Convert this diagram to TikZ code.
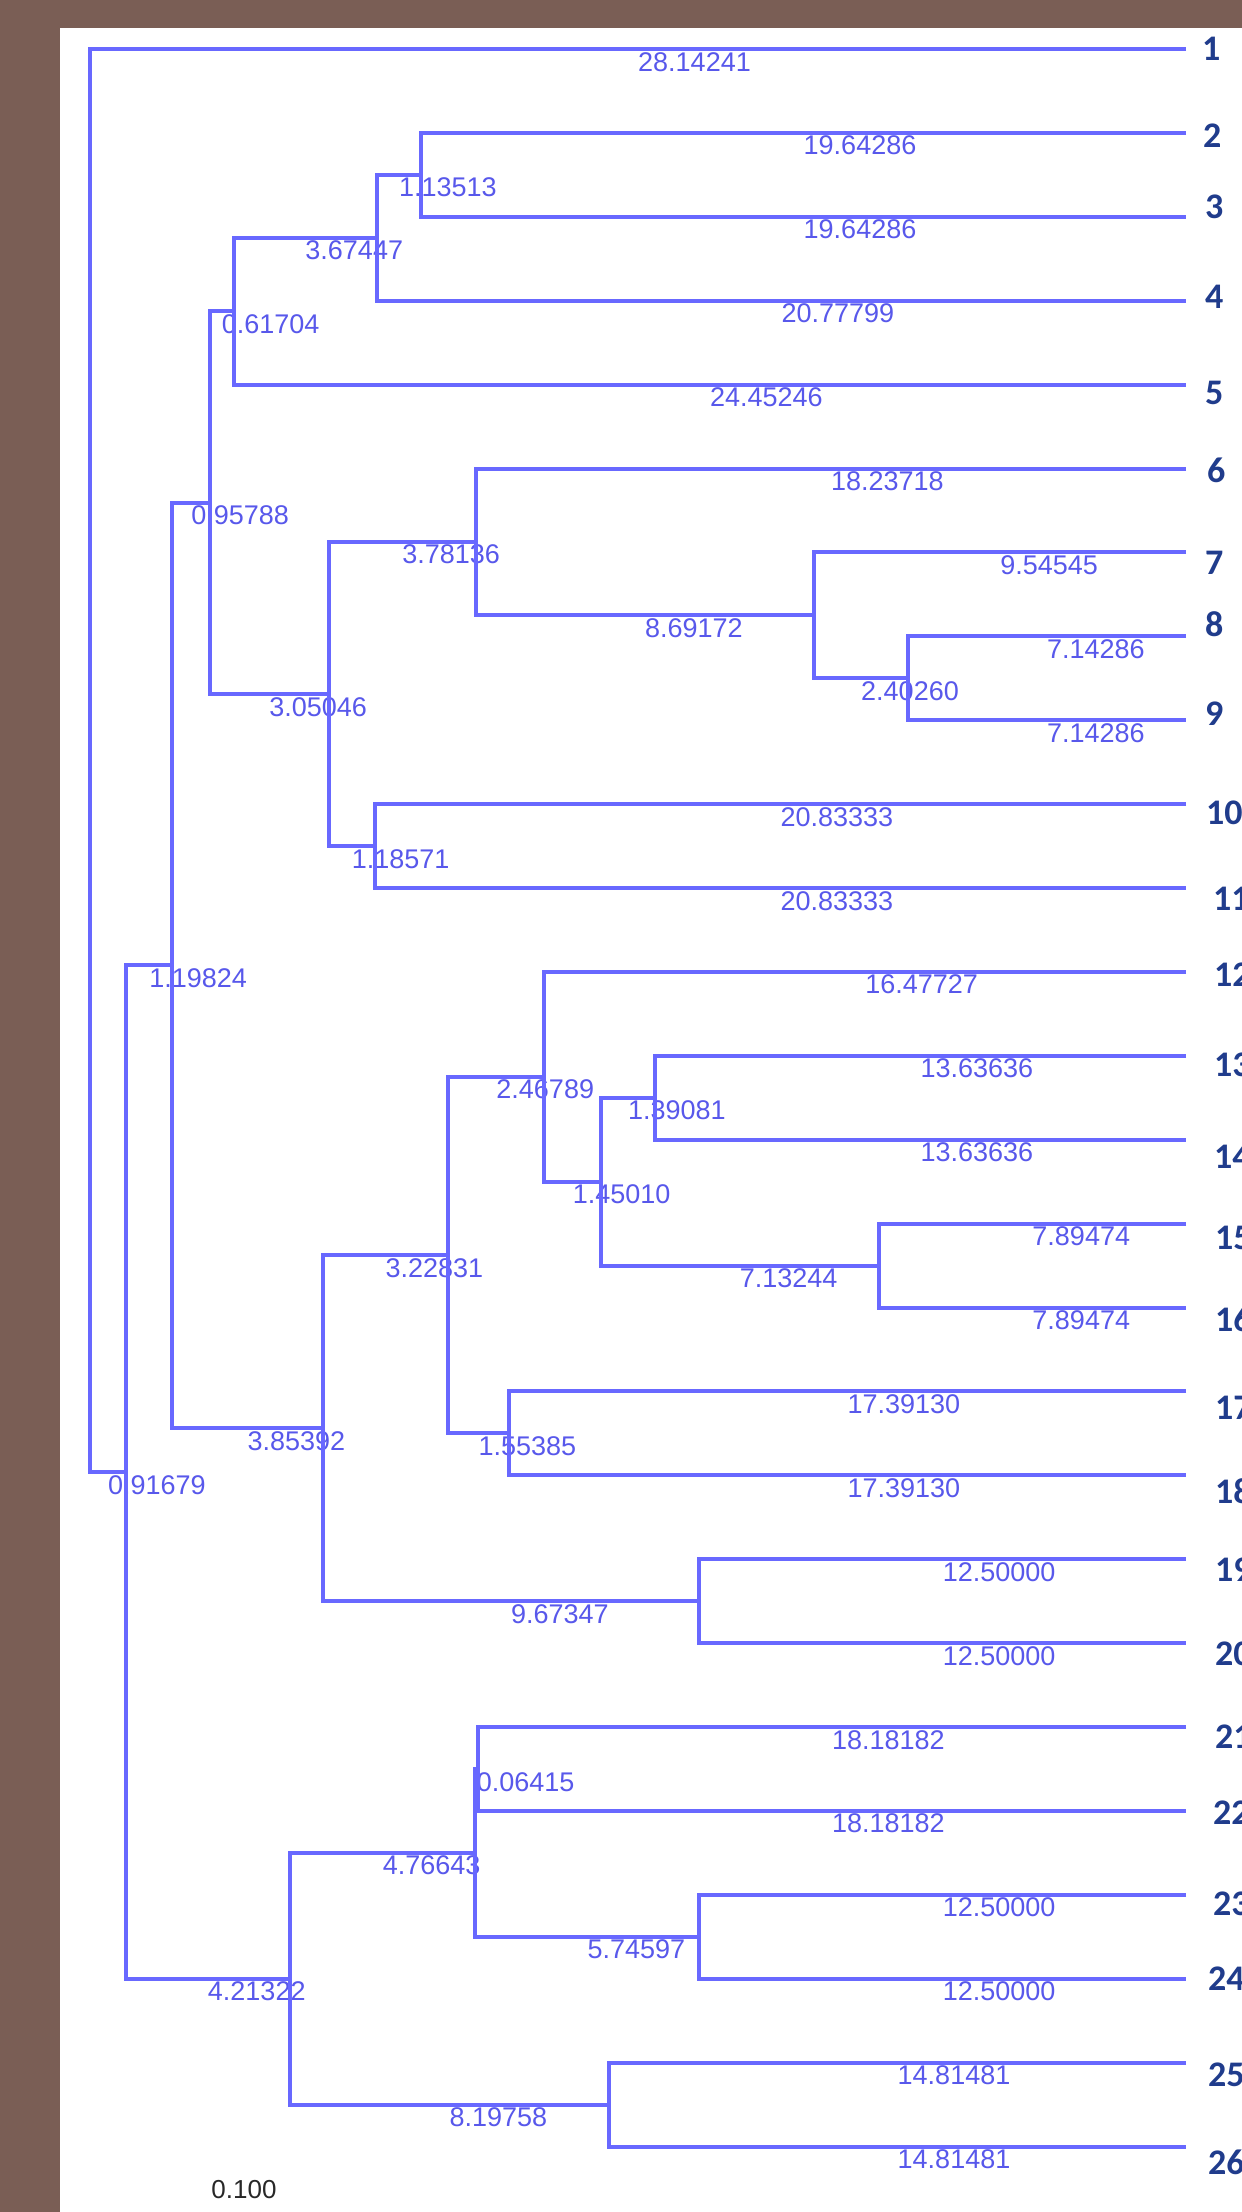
\documentclass[tikz,border=0pt]{standalone}
\usepackage{fontspec}
\setmainfont{Liberation Sans}
\newfontfamily\leaffont{Carlito}
\usetikzlibrary{calc}
\definecolor{bgbrown}{RGB}{122,94,85}
\definecolor{treeblue}{RGB}{104,104,255}
\definecolor{lblblue}{RGB}{88,88,235}
\definecolor{navy}{RGB}{32,60,140}
\definecolor{scalegray}{RGB}{40,40,40}
\newcommand{\bracket}[3]{\draw[branch] (#2) -- (#1 |- #2) -- (#1 |- #3) -- (#3);}
\newcommand{\blab}[4]{\node[blabel] (#1) at ($(#2 |- #3)!0.5!(#3)+(0,3)$) {#4};}
\begin{document}
\begin{tikzpicture}[x=1pt,y=-1pt,
  branch/.style={draw=treeblue,line width=4pt},
  blabel/.style={anchor=north west,inner sep=0pt,text=lblblue,font=\fontsize{27}{30}\selectfont},
  leaf/.style={anchor=west,inner sep=0pt,text=navy,font=\leaffont\bfseries\fontsize{36}{40}\selectfont}]
\useasboundingbox (0,0) rectangle (1242,2212);
\fill[bgbrown] (0,0) rectangle (1242,2212);
\fill[white] (60,28) rectangle (1242,2212);
\clip (0,0) rectangle (1242,2212);
% leaves
\foreach \i in {1,...,26} \coordinate (v\i) at (1186,{49+(\i-1)*83.9});
% internal nodes
\coordinate (nRoot) at (90,760.5);
\coordinate (nA) at (125.7,1472.02);
\coordinate (nB) at (172.4,965.34);
\coordinate (nC) at (289.8,1978.7);
\coordinate (nD) at (209.7,502.58);
\coordinate (nE) at (322.5,1428.1);
\coordinate (nF) at (233.7,311.19);
\coordinate (nG) at (328.5,693.98);
\coordinate (nL) at (376.8,237.78);
\coordinate (nM) at (421.0,174.85);
\coordinate (nH) at (475.7,541.91);
\coordinate (nI) at (374.7,846.05);
\coordinate (nJ) at (814.2,615.33);
\coordinate (nK) at (907.8,678.25);
\coordinate (nN) at (448.2,1255.06);
\coordinate (nO) at (699.2,1601.15);
\coordinate (nP) at (544.3,1076.78);
\coordinate (nQ) at (508.7,1433.35);
\coordinate (nR) at (600.8,1181.65);
\coordinate (nS) at (654.9,1097.75);
\coordinate (nT) at (878.5,1265.55);
\coordinate (nU) at (475.4,1852.85);
\coordinate (nV) at (609.0,2104.55);
\coordinate (nW) at (477.9,1768.95);
\coordinate (nX) at (699.2,1936.75);
% branch labels (drawn first, lines go over them)
\blab{b1}{nRoot}{v1}{28.14241}
\blab{b2}{nRoot}{nA}{0.91679}
\blab{b3}{nA}{nB}{1.19824}
\blab{b4}{nA}{nC}{4.21322}
\blab{b5}{nB}{nD}{0.95788}
\blab{b6}{nB}{nE}{3.85392}
\blab{b7}{nD}{nF}{0.61704}
\blab{b8}{nD}{nG}{3.05046}
\blab{b9}{nF}{nL}{3.67447}
\blab{b10}{nF}{v5}{24.45246}
\blab{b11}{nL}{nM}{1.13513}
\blab{b12}{nL}{v4}{20.77799}
\blab{b13}{nM}{v2}{19.64286}
\blab{b14}{nM}{v3}{19.64286}
\blab{b15}{nG}{nH}{3.78136}
\blab{b16}{nG}{nI}{1.18571}
\blab{b17}{nH}{v6}{18.23718}
\blab{b18}{nH}{nJ}{8.69172}
\blab{b19}{nJ}{v7}{9.54545}
\blab{b20}{nJ}{nK}{2.40260}
\blab{b21}{nK}{v8}{7.14286}
\blab{b22}{nK}{v9}{7.14286}
\blab{b23}{nI}{v10}{20.83333}
\blab{b24}{nI}{v11}{20.83333}
\blab{b25}{nE}{nN}{3.22831}
\blab{b26}{nE}{nO}{9.67347}
\blab{b27}{nN}{nP}{2.46789}
\blab{b28}{nN}{nQ}{1.55385}
\blab{b29}{nP}{v12}{16.47727}
\blab{b30}{nP}{nR}{1.45010}
\blab{b31}{nR}{nS}{1.39081}
\blab{b32}{nR}{nT}{7.13244}
\blab{b33}{nS}{v13}{13.63636}
\blab{b34}{nS}{v14}{13.63636}
\blab{b35}{nT}{v15}{7.89474}
\blab{b36}{nT}{v16}{7.89474}
\blab{b37}{nQ}{v17}{17.39130}
\blab{b38}{nQ}{v18}{17.39130}
\blab{b39}{nO}{v19}{12.50000}
\blab{b40}{nO}{v20}{12.50000}
\blab{b41}{nC}{nU}{4.76643}
\blab{b42}{nC}{nV}{8.19758}
\blab{b43}{nU}{nW}{0.06415}
\blab{b44}{nU}{nX}{5.74597}
\blab{b45}{nW}{v21}{18.18182}
\blab{b46}{nW}{v22}{18.18182}
\blab{b47}{nX}{v23}{12.50000}
\blab{b48}{nX}{v24}{12.50000}
\blab{b49}{nV}{v25}{14.81481}
\blab{b50}{nV}{v26}{14.81481}
% tree lines
\bracket{nRoot}{v1}{nA}
\bracket{nA}{nB}{nC}
\bracket{nB}{nD}{nE}
\bracket{nD}{nF}{nG}
\bracket{nF}{nL}{v5}
\bracket{nL}{nM}{v4}
\bracket{nM}{v2}{v3}
\bracket{nG}{nH}{nI}
\bracket{nH}{v6}{nJ}
\bracket{nJ}{v7}{nK}
\bracket{nK}{v8}{v9}
\bracket{nI}{v10}{v11}
\bracket{nE}{nN}{nO}
\bracket{nN}{nP}{nQ}
\bracket{nP}{v12}{nR}
\bracket{nR}{nS}{nT}
\bracket{nS}{v13}{v14}
\bracket{nT}{v15}{v16}
\bracket{nQ}{v17}{v18}
\bracket{nO}{v19}{v20}
\bracket{nC}{nU}{nV}
\bracket{nU}{nW}{nX}
\bracket{nW}{v21}{v22}
\bracket{nX}{v23}{v24}
\bracket{nV}{v25}{v26}
% leaf labels
\foreach \i/\xx/\dy in {1/1202/0,2/1203/3,3/1205/-10,4/1205/-4,5/1205/8,6/1207/2,7/1205/10,8/1205/-12,9/1205/-7,10/1206/9,11/1213/11,12/1214/3,13/1214/9,14/1214/17,15/1215/14,16/1215/12,17/1215/16,18/1215/16,19/1215/10,20/1215/11,21/1215/10,22/1213/2,23/1213/9,24/1208/0,25/1208/12,26/1208/16}
  \node[leaf] (t\i) at (\xx,{49+(\i-1)*83.9+\dy}) {\i};
% scale value
\node[inner sep=0pt,text=scalegray,font=\fontsize{26}{30}\selectfont] (scale) at (244,2190) {0.100};
\end{tikzpicture}
\end{document}
